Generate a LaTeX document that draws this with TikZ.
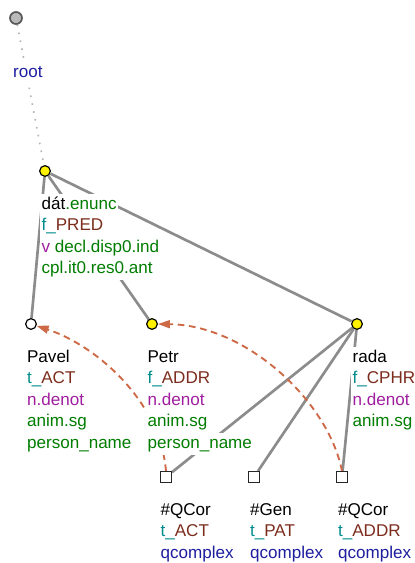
\documentclass[tikz,border=0pt]{standalone}
\usepackage{fontspec}
\setmainfont{Liberation Sans}
\usetikzlibrary{positioning, arrows.meta, calc, backgrounds}

\definecolor{attrgreen}{RGB}{0,125,0}
\definecolor{functeal}{RGB}{0,140,140}
\definecolor{funcbrown}{RGB}{125,45,30}
\definecolor{grampurple}{RGB}{160,30,160}
\definecolor{rootblue}{RGB}{30,30,160}
\definecolor{corefcol}{RGB}{205,105,70}
\definecolor{edgegray}{RGB}{140,140,140}

\setlength{\fboxsep}{0pt}
\newcommand{\tline}[1]{\colorbox{white}{\hspace{1pt}\strut#1\hspace{1pt}}}
\newcommand{\fnc}[2]{\textcolor{functeal}{#1}\textcolor{funcbrown}{#2}}
\newcommand{\attr}[1]{\textcolor{attrgreen}{#1}}
\newcommand{\gram}[1]{\textcolor{grampurple}{#1}}
\newcommand{\qval}[1]{\textcolor{rootblue}{#1}}

\begin{document}
\begin{tikzpicture}[x=0.75pt, y=-0.75pt,
  tnode/.style={circle, draw=black, line width=0.9pt, minimum size=8pt,
                inner sep=0pt, fill=yellow},
  rootnode/.style={circle, draw=black!65, line width=1.3pt, minimum size=9pt,
                   inner sep=0pt, fill=gray!55},
  qnode/.style={rectangle, draw=black!85, line width=0.9pt, minimum size=8pt,
                inner sep=0pt, fill=white},
  lbl/.style={anchor=north west, inner sep=0pt, align=left,
              font=\fontsize{12.8}{16.1}\selectfont},
  edge/.style={line width=2pt, color=edgegray},
  rootedge/.style={line width=1.2pt, color=gray!60, dash pattern=on 1.2pt off 4.8pt},
  coref/.style={-{Triangle[length=9pt, width=6pt]}, line width=1.4pt, color=corefcol,
                dash pattern=on 5pt off 3.5pt}
]
  \useasboundingbox (0,0) rectangle (414,563);

  % Tree nodes
  \node[rootnode] (root) at (16,18) {};
  \node[tnode] (dat) at (45,171) {};
  \node[tnode, fill=white] (pavel) at (31,324) {};
  \node[tnode] (petr) at (152,324) {};
  \node[tnode] (rada) at (357,324) {};
  \node[qnode] (qcor1) at (166,477) {};
  \node[qnode] (gen) at (254,477) {};
  \node[qnode] (qcor2) at (342,477) {};

  % Node labels
  \node[lbl] (root-l) at ($(root)+(-4.5,44)$) {\tline{\qval{root}}};
  \node[lbl] (dat-l) at ($(dat)+(-5,23)$)
    {\tline{dát\attr{.enunc}}\\\tline{\fnc{f\_}{PRED}}\\
     \tline{\gram{v} \attr{decl.disp0.ind}}\\\tline{\attr{cpl.it0.res0.ant}}};
  \node[lbl] (pavel-l) at ($(pavel)+(-5.5,23)$)
    {\tline{Pavel}\\\tline{\fnc{t\_}{ACT}}\\\tline{\gram{n.denot}}\\
     \tline{\attr{anim.sg}}\\\tline{\attr{person\_name}}};
  \node[lbl] (petr-l) at ($(petr)+(-6,23)$)
    {\tline{Petr}\\\tline{\fnc{f\_}{ADDR}}\\\tline{\gram{n.denot}}\\
     \tline{\attr{anim.sg}}\\\tline{\attr{person\_name}}};
  \node[lbl] (rada-l) at ($(rada)+(-6,23)$)
    {\tline{rada}\\\tline{\fnc{f\_}{CPHR}}\\\tline{\gram{n.denot}}\\
     \tline{\attr{anim.sg}}};
  \node[lbl] (qcor1-l) at ($(qcor1)+(-7,23)$)
    {\tline{\#QCor}\\\tline{\fnc{t\_}{ACT}}\\\tline{\qval{qcomplex}}};
  \node[lbl] (gen-l) at ($(gen)+(-5.5,23)$)
    {\tline{\#Gen}\\\tline{\fnc{t\_}{PAT}}\\\tline{\qval{qcomplex}}};
  \node[lbl] (qcor2-l) at ($(qcor2)+(-5.5,23)$)
    {\tline{\#QCor}\\\tline{\fnc{t\_}{ADDR}}\\\tline{\qval{qcomplex}}};

  % Edges and coreference arrows
  \begin{scope}[on background layer]
    \draw[rootedge] (root) -- (dat);
    \draw[edge] (dat) -- (pavel);
    \draw[edge] (dat) -- (petr);
    \draw[edge] (dat) -- (rada);
    \draw[edge] (rada) -- (qcor1);
    \draw[edge] (rada) -- (gen);
    \draw[edge] (rada) -- (qcor2);
    \draw[coref] (qcor1.north) .. controls (160,400) and (95,345) .. (pavel);
    \draw[coref] (qcor2.north) .. controls (328,400) and (245,325) .. (petr);
  \end{scope}

\end{tikzpicture}
\end{document}
